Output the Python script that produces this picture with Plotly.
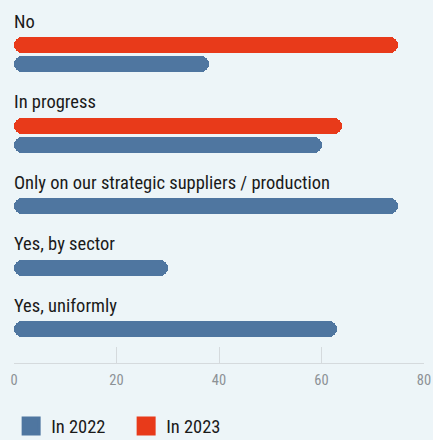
import plotly.graph_objects as go

categories = ["No", "In progress", "Only on our strategic suppliers / production",
              "Yes, by sector", "Yes, uniformly"]
values_2022 = [38, 60, 75, 30, 63]
values_2023 = [75, 64, None, None, None]
series = [("In 2023", values_2023, "#e83a1a"), ("In 2022", values_2022, "#4f76a0")]
x_ticks = [0, 20, 40, 60, 80]

FONT = "Liberation Sans Narrow, Roboto Condensed, DejaVu Sans Condensed, sans-serif"

# row layout (in plot-pixel units): bar spacing within a group and between groups
start, within_gap, group_gap, bar_w = 45, 19, 61.5, 16

pos = start
rows = {name: ([], [], []) for name, _, _ in series}
label_pos = []
for i, cat in enumerate(categories):
    first = None
    for name, vals, _ in series:
        v = vals[i]
        if v is None:
            continue
        if first is None:
            first = pos
        rows[name][0].append(pos)
        rows[name][1].append(v)
        rows[name][2].append(cat)
        pos += within_gap
    label_pos.append(first)
    pos += group_gap - within_gap

fig = go.Figure()
for name, vals, color in [series[1], series[0]]:
    ys, xs, cats = rows[name]
    fig.add_trace(go.Bar(
        orientation="h", y=ys, x=xs, base=[1e-6] * len(xs), width=bar_w,
        marker=dict(color=color, cornerradius=8, line=dict(width=0)),
        name=name, legendgroup=name, showlegend=False,
        customdata=cats, hovertemplate="%{customdata}: %{x:.0f}<extra>" + name + "</extra>",
    ))
    # legend proxy with a larger swatch
    fig.add_trace(go.Scatter(
        x=[None], y=[None], mode="markers", name=name, legendgroup=name,
        marker=dict(symbol="square", size=16, color=color, line=dict(color=color, width=3)),
        showlegend=True, hoverinfo="skip",
    ))

for cat, p in zip(categories, label_pos):
    fig.add_annotation(x=0, y=p - 10.5, xref="x", yref="y", text=cat, showarrow=False,
                       xanchor="left", yanchor="bottom", xshift=-2,
                       font=dict(family=FONT, size=18.5, color="#1a1a1a"))

fig.update_layout(
    width=433, height=440,
    margin=dict(l=14, r=9, t=0, b=77, autoexpand=False),
    paper_bgcolor="#edf5f8", plot_bgcolor="#edf5f8",
    barmode="overlay",
    bargap=0,
    xaxis=dict(range=[0, 80], tickvals=x_ticks, ticks="inside", ticklen=16,
               tickcolor="#d5dadd", showline=True, linecolor="#d5dadd", linewidth=1,
               showgrid=False, zeroline=False, ticklabelstandoff=4,
               tickfont=dict(family=FONT, size=14.5, color="#8c9196")),
    yaxis=dict(range=[363, 0], visible=False, showgrid=False, zeroline=False),
    legend=dict(orientation="h", x=-0.007, y=-0.175, yanchor="middle", xanchor="left",
                font=dict(family=FONT, size=18.5, color="#1a1a1a"),
                bgcolor="rgba(0,0,0,0)", itemwidth=30, entrywidth=70,
                entrywidthmode="pixels"),
    showlegend=True,
)

fig.write_html("out.html")
